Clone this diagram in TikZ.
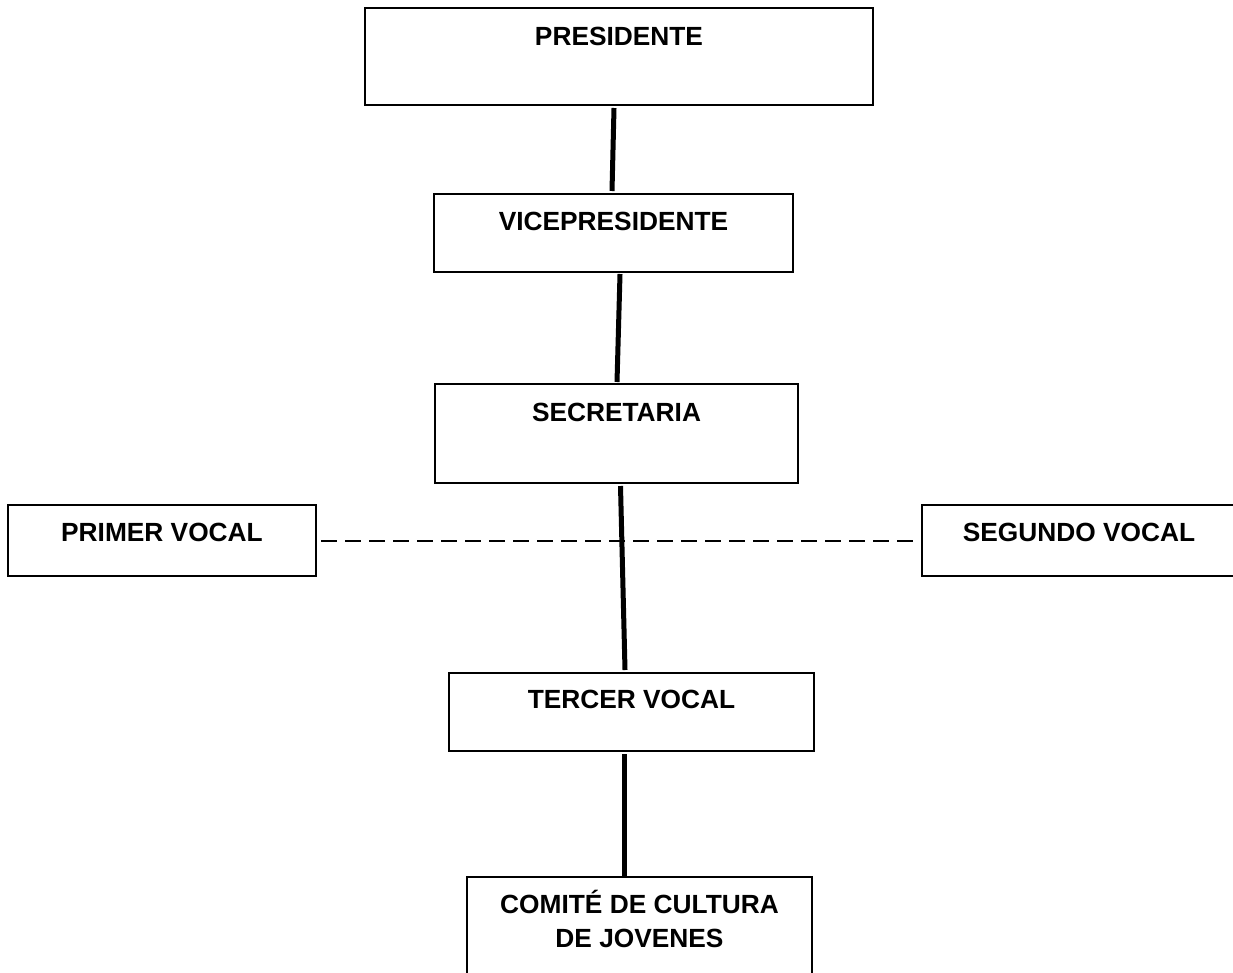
\documentclass[tikz,border=0pt]{standalone}
\usepackage{fontspec}
\setmainfont{Liberation Sans}
\usetikzlibrary{calc}
\tikzset{
  orgbox/.style={draw=black, line width=2pt, inner sep=0pt, outer sep=0pt,
    font=\bfseries\fontsize{26.3}{34}\selectfont, align=center},
  conn/.style={draw=black, line width=5pt},
  dashconn/.style={draw=black, line width=2pt, dash pattern=on 16pt off 8pt},
}
\begin{document}
\begin{tikzpicture}[x=1pt,y=-1pt]
\fill[white] (0,0) rectangle (1233,972);
\useasboundingbox (0,0) rectangle (1233,972);
% boxes: text height = baseline - top, text depth = bottom - baseline
\node[orgbox, minimum width=508pt, text height=37pt, text depth=60pt, anchor=north] (pres) at (619,8) {PRESIDENTE};
\node[orgbox, minimum width=359pt, text height=36pt, text depth=42pt, anchor=north] (vice) at (613.5,194) {VICEPRESIDENTE};
\node[orgbox, minimum width=363pt, text height=37pt, text depth=62pt, anchor=north] (sec) at (616.5,384) {SECRETARIA};
\node[orgbox, minimum width=308pt, text height=36pt, text depth=35pt, anchor=north] (prim) at (162,505) {PRIMER VOCAL};
\node[orgbox, minimum width=314pt, text height=36pt, text depth=35pt, anchor=north] (seg) at (1079,505) {SEGUNDO VOCAL};
\node[orgbox, minimum width=365pt, text height=35pt, text depth=43pt, anchor=north] (terc) at (631.5,673) {TERCER VOCAL};
\node[orgbox, minimum width=345pt, text height=70pt, text depth=45pt, anchor=north] (com) at (639.5,877) {COMITÉ DE CULTURA\\DE JOVENES};
% connectors
\draw[conn] ($(pres.south)+(-5,3)$) -- ($(vice.north)+(-1.5,-3)$);
\draw[conn] ($(vice.south)+(6.5,2)$) -- ($(sec.north)+(0.5,-2)$);
\draw[conn] ($(sec.south)+(4,3)$) -- ($(terc.north)+(-6.5,-3)$);
\draw[conn] ($(terc.south)+(-7.5,3)$) -- ($(com.north)+(-15.5,-1)$);
\draw[dashconn] ($(prim.east)+(5,0)$) -- ($(seg.west)+(-5,0)$);
\end{tikzpicture}
\end{document}
